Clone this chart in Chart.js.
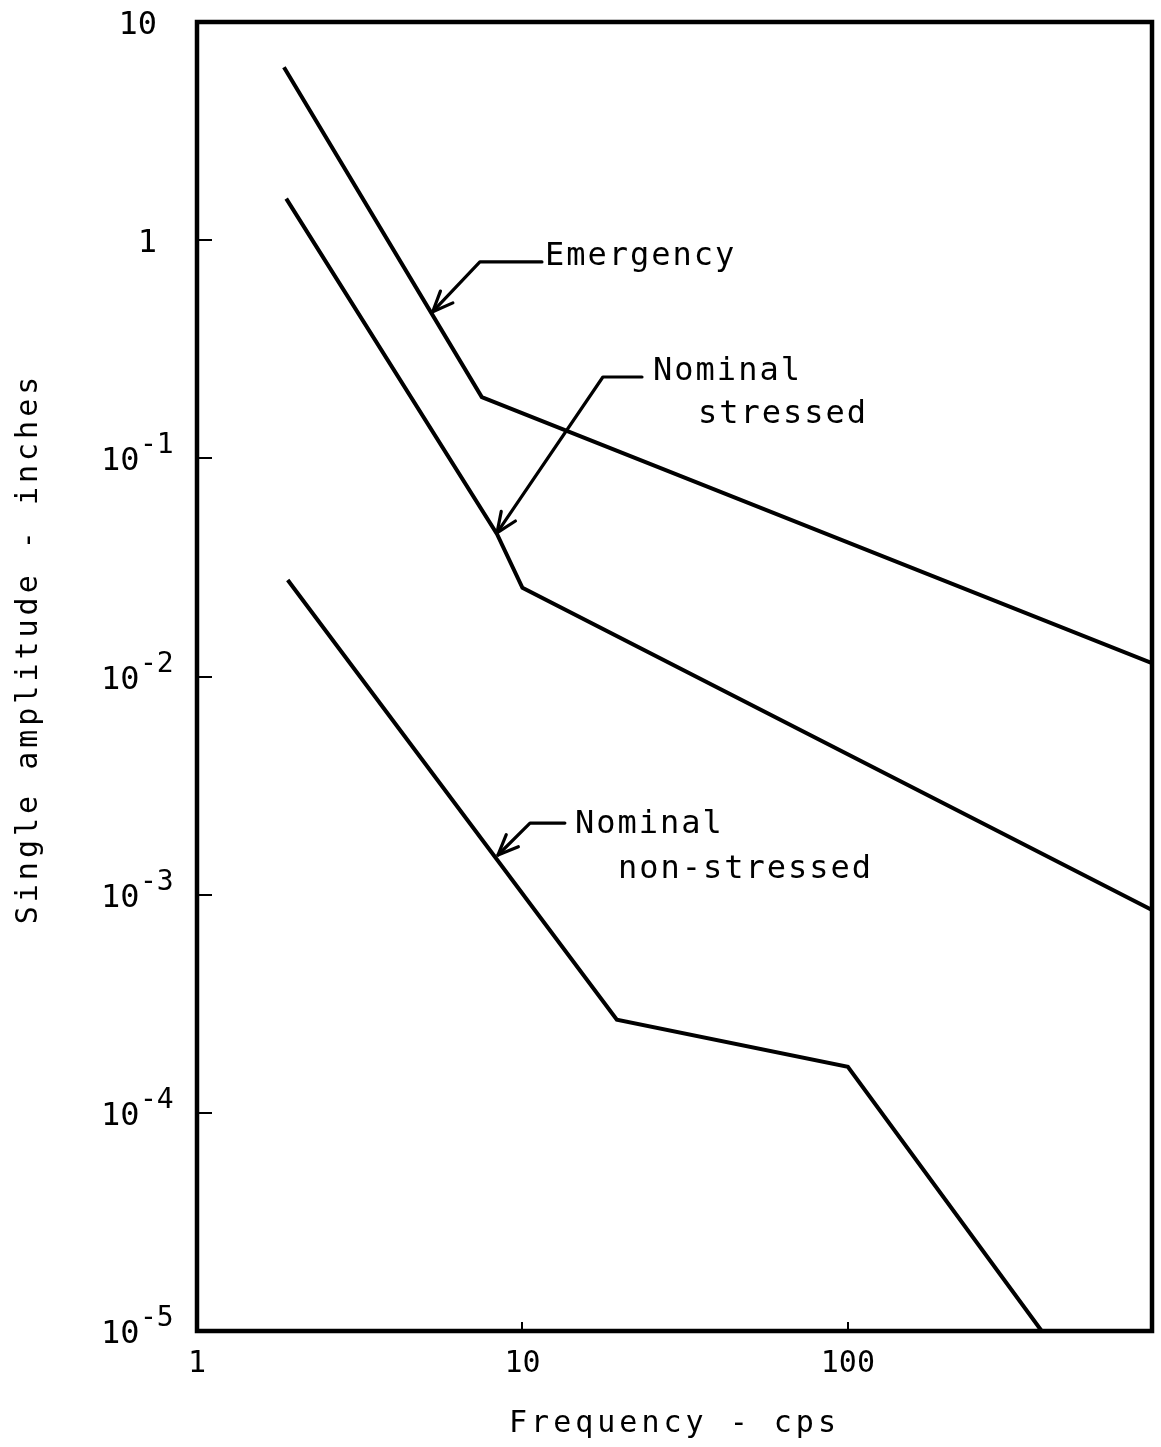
<!DOCTYPE html>
<html>
<head>
<meta charset="utf-8">
<script src="https://cdn.jsdelivr.net/npm/chart.js@4.4.0/dist/chart.umd.min.js"></script>
<style>
  html, body { margin: 0; padding: 0; background: #ffffff; }
  #wrap { width: 1161px; height: 1447px; }
</style>
</head>
<body>
<div id="wrap"><canvas id="c" width="1161" height="1447"></canvas></div>
<script>
// ---- data (frequency in cps, single amplitude in inches) ----
const emergencyFreq = [1.85, 7.5, 860];
const emergencyAmp  = [6.2, 0.191, 0.0115];

const stressedFreq = [1.88, 8.35, 10, 860];
const stressedAmp  = [1.55, 0.045, 0.0255, 0.00085];

const nonStressedFreq = [1.9, 19.5, 100, 394, 860];
const nonStressedAmp  = [0.0277, 0.000267, 0.0001625, 0.00001, 0.00001];

const xTickValues = [1, 10, 100];
const xTickLabels = ['1', '10', '100'];
const yTickValues = [10, 1, 0.1, 0.01, 0.001, 0.0001, 0.00001];
const yTickBase   = ['10', '1', '10', '10', '10', '10', '10'];
const yTickExp    = ['', '', '-1', '-2', '-3', '-4', '-5'];

const xTitle = 'Frequency - cps';
const yTitle = 'Single amplitude - inches';

// annotation anchors in data coordinates: arrow tip, elbow, leader end, text lines
const annotationTips   = [[5.3, 0.47], [8.35, 0.0455], [8.41, 0.00152]];
const annotationElbows = [[7.4, 0.795], [17.67, 0.236], [10.55, 0.00213]];
const annotationEnds   = [[11.48, 0.795], [23.3, 0.236], [13.5, 0.00213]];
const annotationTexts  = [
  [['Emergency', 11.73, 0.838]],
  [['Nominal', 25.2, 0.249], ['stressed', 34.6, 0.158]],
  [['Nominal', 14.5, 0.00209], ['non-stressed', 19.65, 0.0013]]
];

const FONT = '"DejaVu Sans Mono", "Liberation Mono", monospace';

function pts(xs, ys) { return xs.map((x, i) => ({ x: x, y: ys[i] })); }
function tickIndex(v) {
  let best = 0, bd = Infinity;
  yTickValues.forEach((t, i) => { const d = Math.abs(Math.log10(t) - Math.log10(v)); if (d < bd) { bd = d; best = i; } });
  return best;
}

const scalePatches = {
  id: 'scalePatches',
  beforeDraw(chart) {
    const xs = chart.scales.x, ys = chart.scales.y;
    if (!xs._patched) {
      const origX = xs.drawTitle.bind(xs);
      xs.drawTitle = function () {
        const ctx = chart.ctx;
        ctx.save();
        ctx.letterSpacing = '4px';
        origX();
        ctx.restore();
      };
      xs._patched = true;
    }
    if (!ys._patched) {
      const origY = ys.drawTitle.bind(ys);
      ys.drawTitle = function () {
        const ctx = chart.ctx;
        ctx.save();
        ctx.letterSpacing = '4px';
        ctx.translate(0, -28);
        origY();
        ctx.restore();
      };
      // tick labels written as 10 with a raised exponent
      ys.drawLabels = function () {
        const ctx = chart.ctx;
        ctx.save();
        ctx.fillStyle = '#000';
        ctx.textBaseline = 'alphabetic';
        ys.ticks.forEach(t => {
          const i = tickIndex(t.value);
          const y = ys.getPixelForValue(t.value);
          const base = yTickBase[i], exp = yTickExp[i];
          ctx.font = '32px ' + FONT;
          if (!exp) {
            ctx.textAlign = 'right';
            ctx.fillText(base, ys.right - 40, y + 12);
          } else {
            ctx.textAlign = 'left';
            ctx.fillText(base, ys.right - 96, y + 12);
            ctx.font = '28px ' + FONT;
            ctx.fillText(exp, ys.right - 57, y - 5);
          }
        });
        ctx.restore();
      };
      ys._patched = true;
    }
  }
};

const frame = {
  id: 'frame',
  afterDatasetsDraw(chart) {
    const { ctx, chartArea: a } = chart;
    ctx.save();
    ctx.strokeStyle = '#000';
    ctx.lineWidth = 4.5;
    ctx.lineJoin = 'miter';
    ctx.strokeRect(a.left, a.top, a.right - a.left, a.bottom - a.top);
    ctx.restore();
  }
};

const annotate = {
  id: 'annotate',
  afterDraw(chart) {
    const { ctx } = chart;
    const xs = chart.scales.x, ys = chart.scales.y;
    const P = (p) => [xs.getPixelForValue(p[0]), ys.getPixelForValue(p[1])];
    ctx.save();
    ctx.strokeStyle = '#000';
    ctx.fillStyle = '#000';
    ctx.lineWidth = 3.2;
    ctx.lineCap = 'round';
    ctx.lineJoin = 'round';
    annotationTips.forEach((tip, i) => {
      const t = P(tip), e = P(annotationElbows[i]), n = P(annotationEnds[i]);
      ctx.beginPath();
      ctx.moveTo(n[0], n[1]);
      ctx.lineTo(e[0], e[1]);
      ctx.lineTo(t[0], t[1]);
      ctx.stroke();
      const ang = Math.atan2(e[1] - t[1], e[0] - t[0]);
      const L = 22, spread = 0.4;
      ctx.beginPath();
      ctx.moveTo(t[0] + L * Math.cos(ang + spread), t[1] + L * Math.sin(ang + spread));
      ctx.lineTo(t[0], t[1]);
      ctx.lineTo(t[0] + L * Math.cos(ang - spread), t[1] + L * Math.sin(ang - spread));
      ctx.stroke();
    });
    ctx.font = '32px ' + FONT;
    ctx.letterSpacing = '2px';
    ctx.textAlign = 'left';
    ctx.textBaseline = 'middle';
    annotationTexts.forEach(lines => {
      lines.forEach(([txt, fx, fy]) => {
        ctx.fillText(txt, xs.getPixelForValue(fx), ys.getPixelForValue(fy));
      });
    });
    ctx.restore();
  }
};

const lineStyle = { borderColor: '#000', borderWidth: 4, pointRadius: 0, fill: false, tension: 0 };

new Chart(document.getElementById('c'), {
  type: 'line',
  data: {
    datasets: [
      Object.assign({ label: 'Emergency', data: pts(emergencyFreq, emergencyAmp) }, lineStyle),
      Object.assign({ label: 'Nominal stressed', data: pts(stressedFreq, stressedAmp) }, lineStyle),
      Object.assign({ label: 'Nominal non-stressed', data: pts(nonStressedFreq, nonStressedAmp) }, lineStyle)
    ]
  },
  options: {
    responsive: false,
    animation: false,
    events: [],
    layout: { padding: { top: 22, right: 9, left: 0, bottom: 0 } },
    plugins: { legend: { display: false }, tooltip: { enabled: false } },
    scales: {
      x: {
        type: 'logarithmic',
        position: 'bottom',
        min: 1,
        max: 860,
        afterBuildTicks: (s) => { s.ticks = xTickValues.map(v => ({ value: v })); },
        afterFit: (s) => { s.height = 116; s.paddingLeft = 0; s.paddingRight = 0; },
        border: { display: false },
        grid: { drawOnChartArea: false, drawTicks: true, tickLength: -9, color: '#000', lineWidth: 2 },
        ticks: {
          autoSkip: false, maxRotation: 0, minRotation: 0, padding: 24,
          color: '#000', font: { family: FONT, size: 30 },
          callback: (v, i) => xTickLabels[i]
        },
        title: { display: true, text: xTitle, color: '#000', font: { family: FONT, size: 30 }, padding: 5 }
      },
      y: {
        type: 'logarithmic',
        position: 'left',
        min: 0.00001,
        max: 10,
        afterBuildTicks: (s) => { s.ticks = yTickValues.slice().reverse().map(v => ({ value: v })); },
        afterFit: (s) => { s.width = 197; s.paddingTop = 0; s.paddingBottom = 0; },
        border: { display: false },
        grid: { drawOnChartArea: false, drawTicks: true, tickLength: -15, color: '#000', lineWidth: 2 },
        ticks: {
          autoSkip: false, padding: 34,
          color: '#000', font: { family: FONT, size: 32 },
          callback: (v) => { const i = tickIndex(v); return yTickBase[i] + yTickExp[i]; }
        },
        title: { display: true, text: yTitle, color: '#000', font: { family: FONT, size: 30 }, padding: 11 }
      }
    }
  },
  plugins: [scalePatches, frame, annotate]
});
</script>
</body>
</html>
